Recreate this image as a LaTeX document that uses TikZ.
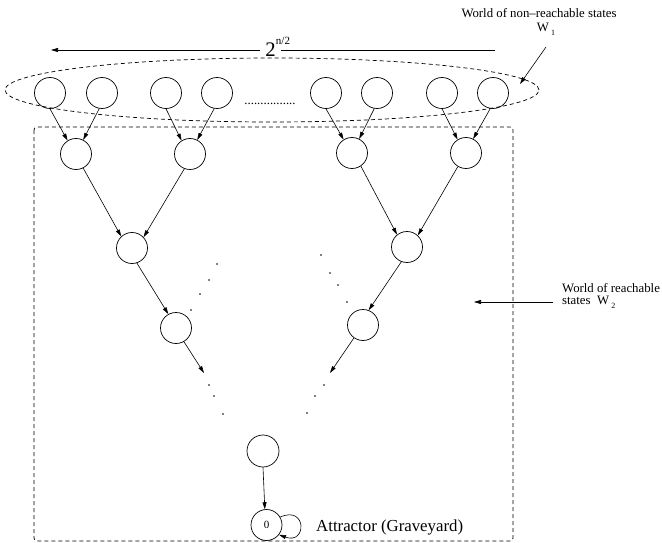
\documentclass[tikz,border=0pt]{standalone}
\usepackage{fontspec}
\setmainfont{Liberation Serif}
\usetikzlibrary{arrows.meta,shapes.geometric}
\begin{document}
\begin{tikzpicture}[x=1pt,y=-1pt,
  st/.style={circle,draw,line width=0.7pt,minimum size=31pt,inner sep=0pt},
  arr/.style={-{Triangle[length=7pt,width=4pt]},line width=0.6pt},
  dsh/.style={dash pattern=on 4pt off 3pt,line width=0.7pt},
  dotp/.style={fill,circle,inner sep=0pt,minimum size=1.6pt},
  lbl/.style={font=\fontsize{12.8}{14}\selectfont,inner sep=0pt}]
\useasboundingbox (0,0) rectangle (662,543);
% world of non-reachable states
\node[draw,dsh,ellipse,minimum width=534pt,minimum height=64pt,inner sep=0pt] (W1e) at (272,90) {};
\node[st] (t1) at (50,93) {};
\node[st] (t2) at (102,93) {};
\node[st] (t3) at (166,93) {};
\node[st] (t4) at (217,93) {};
\node[st] (t5) at (326,93) {};
\node[st] (t6) at (377,93) {};
\node[st] (t7) at (442,93) {};
\node[st] (t8) at (493,93) {};
\node[lbl,anchor=base] (tdots) at (270,105) {................};
% width arrow
\node[font=\fontsize{20.7}{22}\selectfont,inner ysep=0pt,inner xsep=5pt] (two) at (270.5,50) {2};
\node[font=\fontsize{11}{12}\selectfont,inner sep=0pt] (expo) at (283,40.5) {n/2};
\coordinate (aR) at (495,50);
\coordinate (aL) at (51,50);
\draw[line width=0.7pt] (aR) -- (two.east);
\draw[arr,line width=0.7pt] (two.west) -- (aL);
% labels W1
\node[lbl] (w1t) at (539,13) {World of non\textendash reachable states};
\node[lbl] (w1) at (546,29) {W\,\raisebox{-4pt}{\fontsize{8}{8}\selectfont 1}};
\coordinate (w1a) at (546,47);
\coordinate (w1b) at (520,84);
\draw[arr] (w1a) -- (w1b);
% world of reachable states
\draw[dsh,rounded corners=3pt] (34,127) rectangle (513,541);
\node[lbl,anchor=west] (w2t) at (562,288) {World of reachable};
\node[lbl,anchor=west] (w2s) at (562,302) {states\ \ W\,\raisebox{-4pt}{\fontsize{8}{8}\selectfont 2}};
\coordinate (w2a) at (553,302);
\draw[arr] (w2a) -- (474,302);
% levels
\node[st] (a1) at (76,154) {};
\node[st] (a2) at (190,154) {};
\node[st] (a3) at (352,153) {};
\node[st] (a4) at (466,153) {};
\node[st] (b1) at (132,248) {};
\node[st] (b2) at (407,247) {};
\node[st] (c1) at (176,328) {};
\node[st] (c2) at (363,325) {};
\node[st,minimum size=32pt] (d) at (263,451) {};
\node[st,font=\fontsize{11}{12}\selectfont] (z) at (266.5,525) {0};
\node[font=\fontsize{16.8}{18}\selectfont,inner sep=0pt,anchor=west] (attr) at (316,527) {Attractor (Graveyard)};
% edges top -> level 1
\draw[arr] (t1.south) -- (a1.122);
\draw[arr] (t2.260) -- (a1.63);
\draw[arr] (t3.south) -- (a2.122);
\draw[arr] (t4.260) -- (a2.63);
\draw[arr] (t5.south) -- (a3.122);
\draw[arr] (t6.260) -- (a3.63);
\draw[arr] (t7.south) -- (a4.122);
\draw[arr] (t8.260) -- (a4.63);
% level 1 -> 2
\draw[arr] (a1.-63) -- (b1.133);
\draw[arr] (a2.-111) -- (b1.43);
\draw[arr] (a3.-56) -- (b2.129);
\draw[arr] (a4.-121) -- (b2.47);
% level 2 -> 3
\draw[arr] (b1.-72) -- (c1.119);
\draw[arr] (b2.-111) -- (c2.69);
% level 3 -> dots
\coordinate (e1) at (204,373);
\coordinate (e2) at (330,373);
\draw[arr] (c1.-60) -- (e1);
\draw[arr] (c2.-125) -- (e2);
% bottom
\draw[arr] (d.south) -- (z.96);
\draw[arr] (z.30) .. controls (307,505) and (307,545) .. (z.-38);
% dots
\foreach \p in {(217,264),(209,280),(200,294),(191,310),(321,255),(330,273),(338,285),(347,302),(209,385),(214,396),(223,414),(324,385),(315,396),(307,413)}
  \node[dotp] at \p {};
\end{tikzpicture}
\end{document}
